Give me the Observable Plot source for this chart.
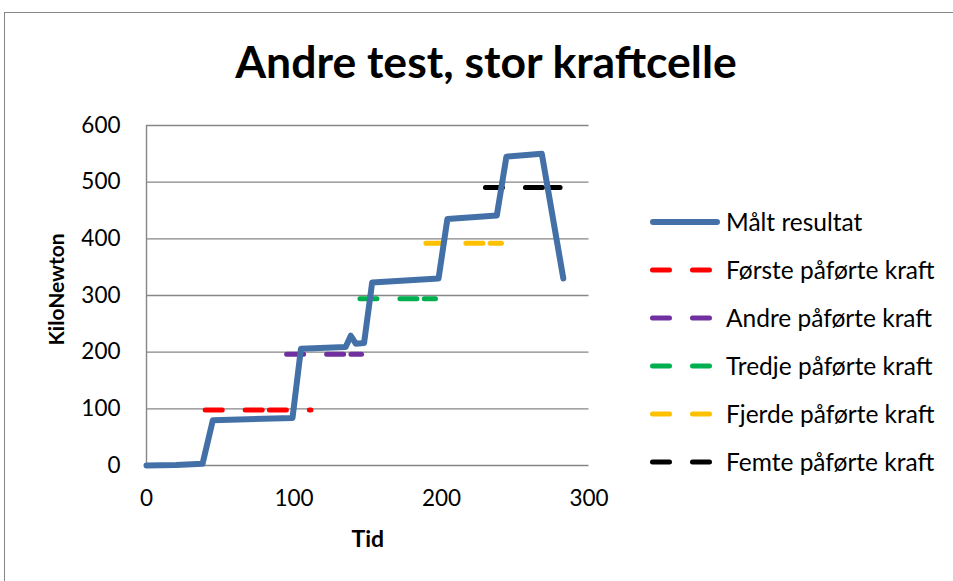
<!DOCTYPE html>
<html>
<head>
<meta charset="utf-8">
<script src="https://cdn.jsdelivr.net/npm/d3@7"></script>
<script src="https://cdn.jsdelivr.net/npm/@observablehq/plot@0.6"></script>
<style>
  body { margin: 0; background: #fff; overflow: hidden; }
  #wrap { position: relative; width: 953px; height: 581px; overflow: hidden; font-family: Lato, "Noto Sans", sans-serif; background: #fff; }
  #frame { position: absolute; left: 4px; top: 12px; width: 1000px; height: 1000px; border: 1px solid #868686; box-sizing: border-box; }
  #title { position: absolute; left: 4px; width: 964px; top: 39px; text-align: center; font-weight: bold; font-size: 44.5px; line-height: 44px; color: #000; white-space: nowrap; }
  #chart { position: absolute; left: 0; top: 0; }
  #legend { position: absolute; left: 650px; top: 198px; }
  .row { display: flex; align-items: center; height: 48px; }
  .row svg { display: block; flex: none; }
  .row span { margin-left: 6px; font-size: 24.5px; line-height: 48px; color: #000; white-space: nowrap; }
</style>
</head>
<body>
<div id="wrap">
  <div id="frame"></div>
  <div id="chart"></div>
  <div id="title"></div>
  <div id="legend"></div>
</div>
<script>
// ---- data ----
const titleText = "Andre test, stor kraftcelle";
const xLabel = "Tid";
const yLabel = "KiloNewton";
const xTicks = [0, 100, 200, 300];
const yTicks = [0, 100, 200, 300, 400, 500, 600];

const measuredName = "Målt resultat";
const measuredColor = "#4470a8";
const measuredTime = [0, 20, 38, 45, 99, 104.7, 135, 138.5, 141.9, 147.5, 153, 198, 204, 237.5, 244, 268, 282.6];
const measuredKN  = [0, 1, 3, 80, 84, 206, 209, 229, 215, 216, 323, 330, 435, 441, 545, 550, 330];

const forceNames = ["Første påførte kraft", "Andre påførte kraft", "Tredje påførte kraft", "Fjerde påførte kraft", "Femte påførte kraft"];
const forceColors = ["#ff0000", "#7030a0", "#00b050", "#ffc000", "#000000"];
const forceValues = [98.1, 196.2, 294.3, 392.4, 490.5];
const forceTimes = [
  [39.8, 83.3, 111.5],
  [95.0, 138.6, 145.8],
  [144.7, 188.3, 195.9],
  [189.4, 233.0, 240.6],
  [229.8, 273.3, 280.4]
];

// ---- build tables ----
const measured = measuredTime.map((t, i) => ({t, v: measuredKN[i]}));
const forceRows = [];
forceNames.forEach((name, i) => {
  const ts = forceTimes[i];
  for (let j = 0; j < ts.length - 1; j++) {
    forceRows.push({t: ts[j], v: forceValues[i], name, seg: i + "-" + j});
    forceRows.push({t: ts[j + 1], v: forceValues[i], name, seg: i + "-" + j});
  }
});

const chart = Plot.plot({
  width: 953,
  height: 581,
  marginLeft: 146,
  marginRight: 364.5,
  marginTop: 125,
  marginBottom: 116,
  style: {fontFamily: "Lato, 'Noto Sans', sans-serif", background: "transparent", color: "#000"},
  x: {domain: [0, 300]},
  y: {domain: [0, 600]},
  color: {domain: forceNames, range: forceColors},
  marks: [
    Plot.gridY(yTicks, {stroke: "#868686", strokeOpacity: 1, strokeWidth: 1.4}),
    Plot.ruleX([0], {stroke: "#868686", strokeWidth: 1.4}),
    Plot.axisX(xTicks, {tickSize: 0, tickPadding: 25, fontSize: 22.5, label: null}),
    Plot.axisY(yTicks, {tickSize: 0, tickPadding: 26, fontSize: 22.5, label: null}),
    Plot.line(forceRows, {x: "t", y: "v", z: "seg", stroke: "name", strokeWidth: 5, strokeDasharray: "17,23", strokeLinecap: "round"}),
    Plot.line(measured, {x: "t", y: "v", stroke: measuredColor, strokeWidth: 6, strokeLinecap: "round", strokeLinejoin: "round"}),
    Plot.text([xLabel], {frameAnchor: "bottom", dy: 74, fontSize: 23, fontWeight: "bold", lineAnchor: "middle", textAnchor: "middle"}),
    Plot.text([yLabel], {frameAnchor: "left", dx: -89, dy: -6, rotate: -90, fontSize: 21, fontWeight: "bold", lineAnchor: "middle", textAnchor: "middle"})
  ]
});
document.getElementById("chart").appendChild(chart);
document.getElementById("title").textContent = titleText;

// ---- legend ----
const legend = document.getElementById("legend");
const ns = "http://www.w3.org/2000/svg";
function addRow(name, color, dashed, width) {
  const row = document.createElement("div");
  row.className = "row";
  const svg = document.createElementNS(ns, "svg");
  svg.setAttribute("width", 70);
  svg.setAttribute("height", 10);
  const line = document.createElementNS(ns, "line");
  line.setAttribute("x1", dashed ? 2.5 : 3);
  line.setAttribute("x2", dashed ? 59.5 : 67);
  line.setAttribute("y1", 5);
  line.setAttribute("y2", 5);
  line.setAttribute("stroke", color);
  line.setAttribute("stroke-width", width);
  line.setAttribute("stroke-linecap", "round");
  if (dashed) line.setAttribute("stroke-dasharray", "17,23");
  svg.appendChild(line);
  const span = document.createElement("span");
  span.textContent = name;
  row.appendChild(svg);
  row.appendChild(span);
  legend.appendChild(row);
}
addRow(measuredName, measuredColor, false, 6);
forceNames.forEach((n, i) => addRow(n, forceColors[i], true, 5));
</script>
</body>
</html>
